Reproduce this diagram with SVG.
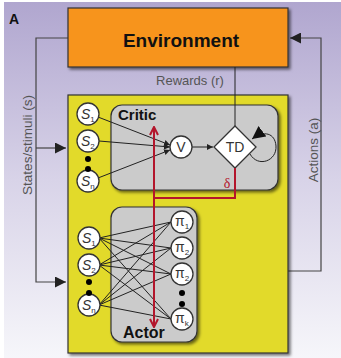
<svg xmlns="http://www.w3.org/2000/svg" width="341" height="358" viewBox="0 0 341 358">
<defs>
<linearGradient id="bg" x1="0" y1="0" x2="0" y2="1">
<stop offset="0" stop-color="#b0a6cf"/>
<stop offset="0.5" stop-color="#d8d3e8"/>
<stop offset="1" stop-color="#f6f6fa"/>
</linearGradient>
<filter id="sh" x="-10%" y="-10%" width="130%" height="130%">
<feDropShadow dx="2" dy="2" stdDeviation="1.5" flood-color="#000" flood-opacity="0.55"/>
</filter>
<marker id="ah" viewBox="0 0 10 10" refX="10" refY="5" markerWidth="6" markerHeight="6" orient="auto" markerUnits="userSpaceOnUse">
<path d="M0,0 L10,5 L0,10 z" fill="#222"/>
</marker>
<marker id="ahb" viewBox="0 0 10 10" refX="10" refY="5" markerWidth="11" markerHeight="11" orient="auto" markerUnits="userSpaceOnUse">
<path d="M0,0 L10,5 L0,10 z" fill="#222"/>
</marker>
<marker id="ahl" viewBox="0 0 10 10" refX="10" refY="5" markerWidth="13" markerHeight="13" orient="auto" markerUnits="userSpaceOnUse">
<path d="M0,0 L10,5 L0,10 z" fill="#111"/>
</marker>
<marker id="ahr" viewBox="0 0 10 10" refX="9" refY="5" markerWidth="10" markerHeight="10" orient="auto" markerUnits="userSpaceOnUse">
<path d="M1,1 L9,5 L1,9" fill="none" stroke="#b3162c" stroke-width="2"/>
</marker>
</defs>
<style>
.lbl{font-family:"Liberation Sans",Arial,sans-serif;fill:#555}
.bold{font-family:"Liberation Sans",Arial,sans-serif;font-weight:bold;fill:#111}
.node{fill:#fff;stroke:#333;stroke-width:1.3}
.nt{font-family:"Liberation Sans",Arial,sans-serif;fill:#333;font-size:14px}
.sub{font-size:8px}
.ln{stroke:#222;stroke-width:1;fill:none}
.gl{stroke:#444;stroke-width:1.2;fill:none}
.red{stroke:#b3162c;stroke-width:2;fill:none}
.dot{fill:#000}
</style>
<rect x="0" y="0" width="341" height="358" fill="#fff"/>
<rect x="4" y="2" width="337" height="356" fill="url(#bg)"/>
<text class="bold" x="9" y="24" font-size="14">A</text>

<g id="connectors">
<polyline class="gl" points="68,38 36,38 36,282 66,282" marker-end="url(#ahb)"/>
<line class="gl" x1="36" y1="148" x2="66" y2="148" marker-end="url(#ahb)"/>
<polyline class="gl" points="193,271 321,271 321,38 290,38" marker-end="url(#ahb)"/>
</g>

<g id="yellow">
<rect x="68" y="95" width="220" height="258" fill="#e2da2a" stroke="#333" stroke-width="1.2" filter="url(#sh)"/>
</g>

<g id="environment">
<rect x="68" y="8" width="220" height="59" fill="#f7941e" stroke="#333" stroke-width="1.2" filter="url(#sh)"/>
<text class="bold" x="181" y="47" font-size="19" text-anchor="middle">Environment</text>
</g>

<text class="lbl" x="190" y="85" font-size="13" text-anchor="middle">Rewards (r)</text>
<text class="lbl" font-size="13.5" text-anchor="middle" transform="translate(32,145) rotate(-90)">States/stimuli (s)</text>
<text class="lbl" font-size="13.5" text-anchor="middle" transform="translate(318,150) rotate(-90)">Actions (a)</text>

<g id="critic">
<rect x="111" y="105" width="167" height="85" rx="11" fill="#cbcbcb" stroke="#333" stroke-width="1.2" filter="url(#sh)"/>
<text class="bold" x="118" y="120" font-size="15">Critic</text>
</g>

<g id="actor">
<rect x="111" y="207" width="86" height="135" rx="11" fill="#cbcbcb" stroke="#333" stroke-width="1.2" filter="url(#sh)"/>
<text class="bold" x="123" y="338" font-size="16">Actor</text>
</g>

<g id="critic-connectors">
<line class="ln" x1="235" y1="67" x2="235" y2="126"/>
<line class="ln" x1="98" y1="117" x2="170" y2="145" marker-end="url(#ah)"/>
<line class="ln" x1="99" y1="141" x2="170" y2="147" marker-end="url(#ah)"/>
<line class="ln" x1="98" y1="178" x2="170" y2="150" marker-end="url(#ah)"/>
<line class="ln" x1="192" y1="147" x2="213" y2="147" marker-end="url(#ah)"/>
<path class="ln" d="M250,154 C258,168 277,161 276,146 C275,133 264,130 252,139" marker-end="url(#ahl)"/>
</g>

<g id="actor-connectors">
<line class="ln" x1="99" y1="238" x2="171" y2="222"/>
<line class="ln" x1="99" y1="238" x2="171" y2="248"/>
<line class="ln" x1="99" y1="238" x2="171" y2="274"/>
<line class="ln" x1="99" y1="238" x2="171" y2="319"/>
<line class="ln" x1="99" y1="265" x2="171" y2="222"/>
<line class="ln" x1="99" y1="265" x2="171" y2="248"/>
<line class="ln" x1="99" y1="265" x2="171" y2="274"/>
<line class="ln" x1="99" y1="265" x2="171" y2="319"/>
<line class="ln" x1="99" y1="305" x2="171" y2="222"/>
<line class="ln" x1="99" y1="305" x2="171" y2="248"/>
<line class="ln" x1="99" y1="305" x2="171" y2="274"/>
<line class="ln" x1="99" y1="305" x2="171" y2="319"/>
</g>

<g id="nodes">
<g id="cs1"><circle class="node" cx="88" cy="114" r="11"/><text class="nt" x="81" y="119" font-style="italic">S<tspan class="sub" dy="3" font-style="normal">1</tspan></text></g>
<g id="cs2"><circle class="node" cx="88" cy="141" r="11"/><text class="nt" x="81" y="146" font-style="italic">S<tspan class="sub" dy="3" font-style="normal">2</tspan></text></g>
<g id="csn"><circle class="node" cx="88" cy="181" r="11"/><text class="nt" x="81" y="186" font-style="italic">S<tspan class="sub" dy="3" font-style="normal">n</tspan></text></g>
<circle class="dot" cx="88" cy="159" r="3"/>
<circle class="dot" cx="88" cy="169" r="3"/>
<g id="v"><circle class="node" cx="181" cy="147" r="11"/><text class="nt" x="181" y="152" text-anchor="middle" font-size="14">V</text></g>
<g id="td"><polygon class="node" points="235,126 256,147 235,168 214,147"/><text class="nt" x="235" y="152" text-anchor="middle" font-size="14" fill="#444">TD</text></g>

<g id="as1"><circle class="node" cx="89" cy="238" r="11"/><text class="nt" x="82" y="243" font-style="italic">S<tspan class="sub" dy="3" font-style="normal">1</tspan></text></g>
<g id="as2"><circle class="node" cx="89" cy="265" r="11"/><text class="nt" x="82" y="270" font-style="italic">S<tspan class="sub" dy="3" font-style="normal">2</tspan></text></g>
<g id="asn"><circle class="node" cx="89" cy="305" r="11"/><text class="nt" x="82" y="310" font-style="italic">S<tspan class="sub" dy="3" font-style="normal">n</tspan></text></g>
<circle class="dot" cx="89" cy="282" r="3"/>
<circle class="dot" cx="89" cy="293" r="3"/>

<g id="p1"><circle class="node" cx="182" cy="222" r="11"/><text class="nt" x="175" y="226">π<tspan class="sub" dy="3">1</tspan></text></g>
<g id="p2"><circle class="node" cx="182" cy="248" r="11"/><text class="nt" x="175" y="252">π<tspan class="sub" dy="3">2</tspan></text></g>
<g id="p3"><circle class="node" cx="182" cy="274" r="11"/><text class="nt" x="175" y="278">π<tspan class="sub" dy="3">2</tspan></text></g>
<circle class="dot" cx="182" cy="293" r="3"/>
<circle class="dot" cx="182" cy="304" r="3"/>
<g id="pk"><circle class="node" cx="182" cy="319" r="11"/><text class="nt" x="175" y="323">π<tspan class="sub" dy="3">k</tspan></text></g>
</g>

<g id="delta">
<polyline class="red" points="235,168 235,198 154,198"/>
<line class="red" x1="154" y1="327" x2="154" y2="127" marker-end="url(#ahr)"/>
<line class="red" x1="154" y1="198" x2="154" y2="327" marker-end="url(#ahr)"/>
<text x="227" y="188" font-family="Liberation Serif,serif" font-size="14" fill="#b3162c" text-anchor="middle">δ</text>
</g>
</svg>
